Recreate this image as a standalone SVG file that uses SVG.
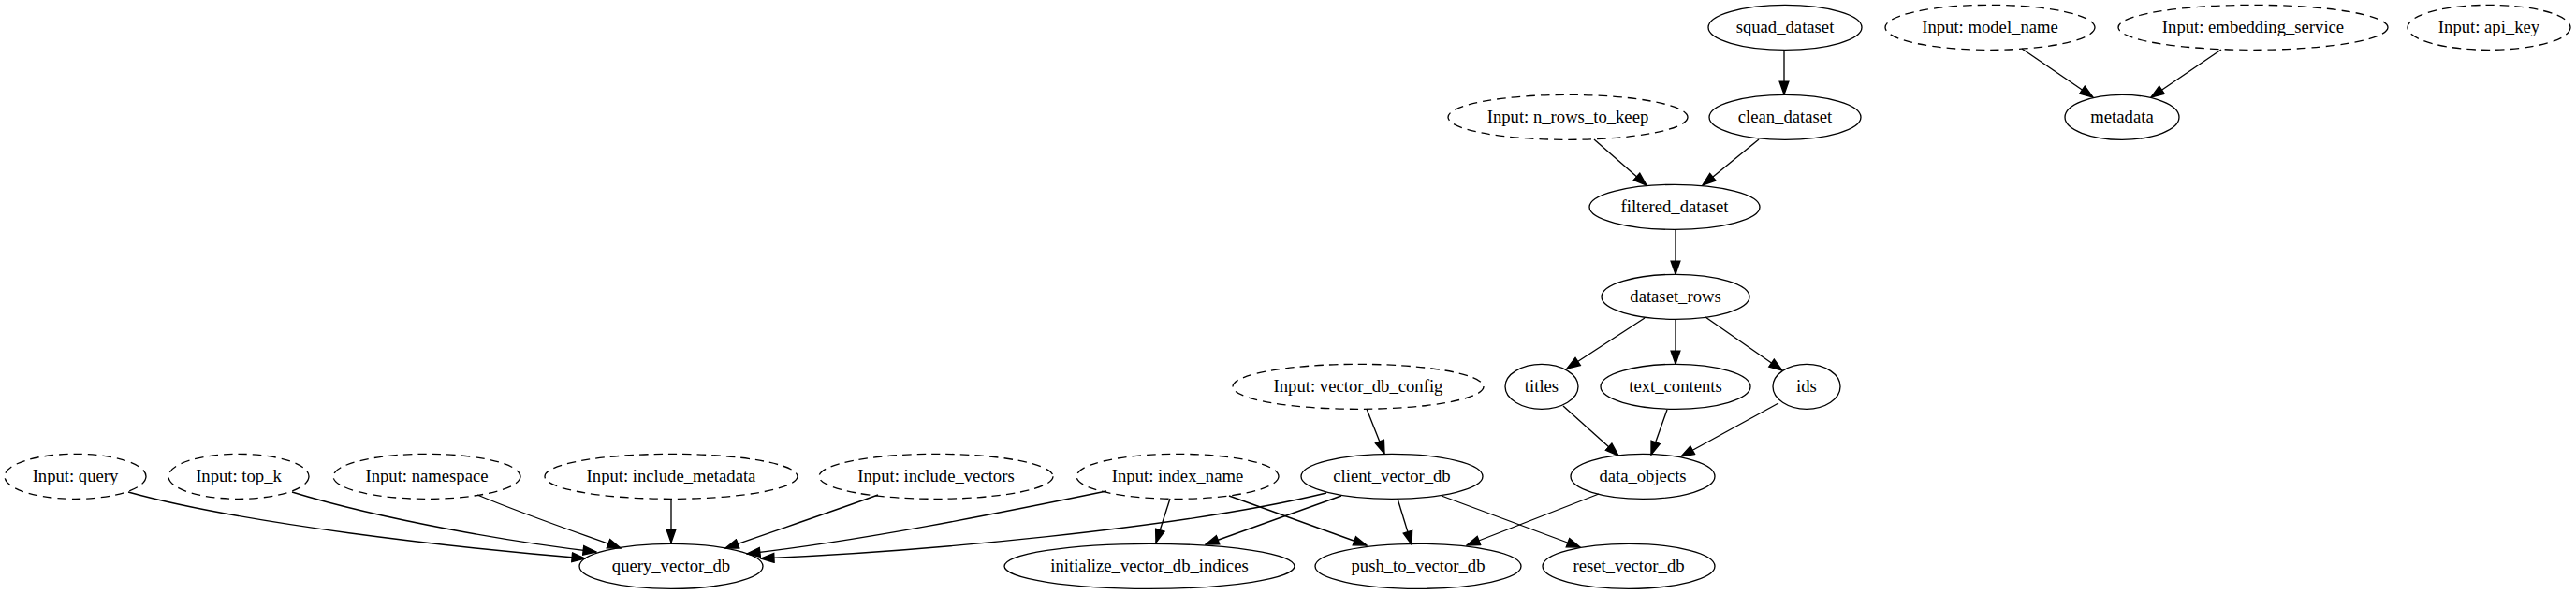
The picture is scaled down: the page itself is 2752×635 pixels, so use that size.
<svg xmlns="http://www.w3.org/2000/svg" width="2752" height="635" viewBox="0 0 2752 635">
<style>
.n ellipse{fill:none;stroke:#000;stroke-width:1.33}
.i ellipse{fill:none;stroke:#000;stroke-width:1.33;stroke-dasharray:9.5,6}
text{font-family:"Liberation Serif","Times New Roman",serif;font-size:18.67px;text-anchor:middle;fill:#000}
#edges path{fill:none;stroke:#000;stroke-width:1.33;marker-end:url(#arr)}
</style>
<defs>
<marker id="arr" markerUnits="userSpaceOnUse" markerWidth="16" markerHeight="12" viewBox="-1 -1 15.33 11.33" refX="13.33" refY="4.67" orient="auto">
<path d="M0,0 L13.33,4.67 L0,9.33 z" fill="#000" stroke="#000" stroke-width="1.33"/>
</marker>
</defs>
<rect width="2752" height="635" fill="#fff"/>
<g id="edges">
<path d="M1906,53 L1906,101"/>
<path d="M1703,149 L1759,198"/>
<path d="M1879,149 L1819,198"/>
<path d="M2160,52 L2236,104"/>
<path d="M2373,53 L2298,104"/>
<path d="M1790,245 L1790,293"/>
<path d="M1757,340 L1674,394"/>
<path d="M1790,341 L1790,389"/>
<path d="M1822,339 L1904,396"/>
<path d="M1670,434 L1729,487"/>
<path d="M1781,438 L1764,486"/>
<path d="M1900,431 L1796,488"/>
<path d="M1460,437 L1479,485"/>
<path d="M137,526 C260,560 480,585 625,597"/>
<path d="M312,526 C410,556 550,580 637,590"/>
<path d="M510,529 C565,552 625,572 663,586"/>
<path d="M717,533 L717,580"/>
<path d="M938,529 C880,550 820,570 775,586"/>
<path d="M1182,525 C1060,550 920,578 798,592"/>
<path d="M1417,527 C1260,565 980,590 813,597"/>
<path d="M1250,533 L1235,580"/>
<path d="M1433,530 L1288,582"/>
<path d="M1313,530 L1460,583"/>
<path d="M1493,533 L1508,582"/>
<path d="M1540,530 L1688,585"/>
<path d="M1708,528 L1567,583"/>
</g>
<g id="squad_dataset" class="n"><ellipse cx="1907" cy="29.33" rx="82" ry="24"/><text x="1907" y="35">squad_dataset</text></g>
<g id="input_model_name" class="i"><ellipse cx="2126" cy="29.33" rx="112" ry="24"/><text x="2126" y="35">Input: model_name</text></g>
<g id="input_embedding_service" class="i"><ellipse cx="2407" cy="29.33" rx="144" ry="24"/><text x="2407" y="35">Input: embedding_service</text></g>
<g id="input_api_key" class="i"><ellipse cx="2659" cy="29.33" rx="87" ry="24"/><text x="2659" y="35">Input: api_key</text></g>
<g id="input_n_rows_to_keep" class="i"><ellipse cx="1675" cy="125.33" rx="128" ry="24"/><text x="1675" y="131">Input: n_rows_to_keep</text></g>
<g id="clean_dataset" class="n"><ellipse cx="1907" cy="125.33" rx="81" ry="24"/><text x="1907" y="131">clean_dataset</text></g>
<g id="metadata" class="n"><ellipse cx="2267" cy="125.33" rx="61" ry="24"/><text x="2267" y="131">metadata</text></g>
<g id="filtered_dataset" class="n"><ellipse cx="1789" cy="221.33" rx="91" ry="24"/><text x="1789" y="227">filtered_dataset</text></g>
<g id="dataset_rows" class="n"><ellipse cx="1790" cy="317.33" rx="79" ry="24"/><text x="1790" y="323">dataset_rows</text></g>
<g id="input_vector_db_config" class="i"><ellipse cx="1451" cy="413.33" rx="134" ry="24"/><text x="1451" y="419">Input: vector_db_config</text></g>
<g id="titles" class="n"><ellipse cx="1647" cy="413.33" rx="39" ry="24"/><text x="1647" y="419">titles</text></g>
<g id="text_contents" class="n"><ellipse cx="1790" cy="413.33" rx="80" ry="24"/><text x="1790" y="419">text_contents</text></g>
<g id="ids" class="n"><ellipse cx="1930" cy="413.33" rx="36" ry="24"/><text x="1930" y="419">ids</text></g>
<g id="input_query" class="i"><ellipse cx="80.5" cy="509.33" rx="75.5" ry="24"/><text x="80.5" y="515">Input: query</text></g>
<g id="input_top_k" class="i"><ellipse cx="255" cy="509.33" rx="75" ry="24"/><text x="255" y="515">Input: top_k</text></g>
<g id="input_namespace" class="i"><ellipse cx="456" cy="509.33" rx="100" ry="24"/><text x="456" y="515">Input: namespace</text></g>
<g id="input_include_metadata" class="i"><ellipse cx="717" cy="509.33" rx="135" ry="24"/><text x="717" y="515">Input: include_metadata</text></g>
<g id="input_include_vectors" class="i"><ellipse cx="1000" cy="509.33" rx="125" ry="24"/><text x="1000" y="515">Input: include_vectors</text></g>
<g id="input_index_name" class="i"><ellipse cx="1258" cy="509.33" rx="108" ry="24"/><text x="1258" y="515">Input: index_name</text></g>
<g id="client_vector_db" class="n"><ellipse cx="1487" cy="509.33" rx="97" ry="24"/><text x="1487" y="515">client_vector_db</text></g>
<g id="data_objects" class="n"><ellipse cx="1755" cy="509.33" rx="77" ry="24"/><text x="1755" y="515">data_objects</text></g>
<g id="query_vector_db" class="n"><ellipse cx="717" cy="605.33" rx="98" ry="24"/><text x="717" y="611">query_vector_db</text></g>
<g id="initialize_vector_db_indices" class="n"><ellipse cx="1228" cy="605.33" rx="155" ry="24"/><text x="1228" y="611">initialize_vector_db_indices</text></g>
<g id="push_to_vector_db" class="n"><ellipse cx="1515" cy="605.33" rx="110" ry="24"/><text x="1515" y="611">push_to_vector_db</text></g>
<g id="reset_vector_db" class="n"><ellipse cx="1740" cy="605.33" rx="92" ry="24"/><text x="1740" y="611">reset_vector_db</text></g>
</svg>
